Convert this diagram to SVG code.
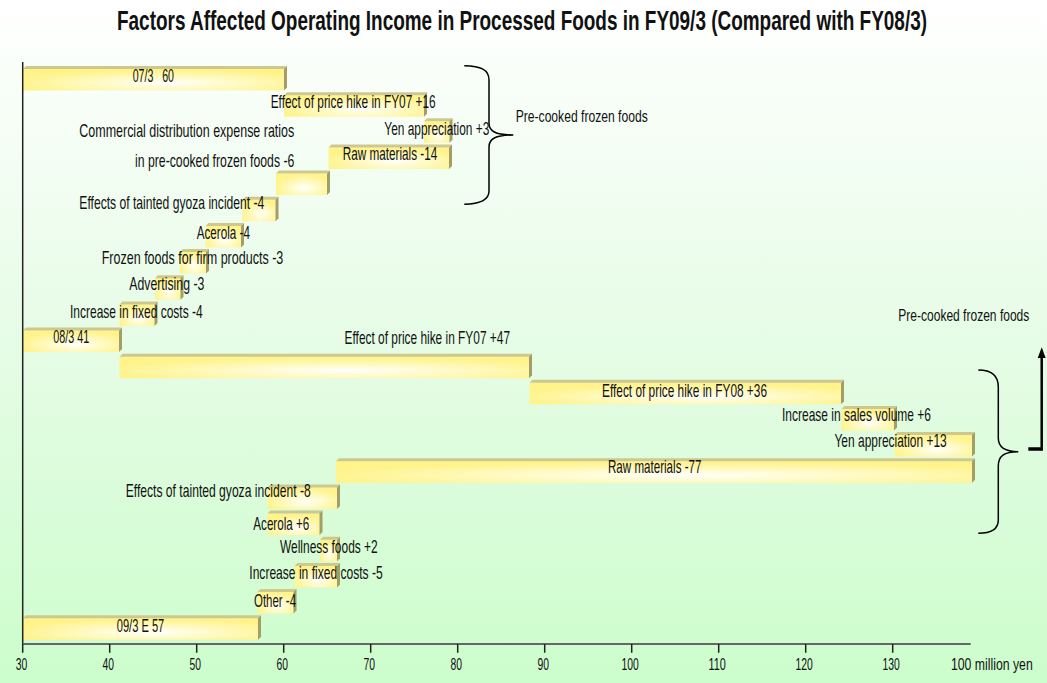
<svg xmlns="http://www.w3.org/2000/svg" width="1047" height="683" viewBox="0 0 1047 683">
<defs>
<linearGradient id="bg" x1="0" y1="0" x2="0" y2="1">
<stop offset="0" stop-color="#ffffff"/>
<stop offset="0.5" stop-color="#e6fce6"/>
<stop offset="1" stop-color="#ccfdcc"/>
</linearGradient>
<radialGradient id="bar" cx="0.55" cy="0.65" r="0.6">
<stop offset="0" stop-color="#ffffff"/>
<stop offset="0.3" stop-color="#fffcd6"/>
<stop offset="1" stop-color="#fff38a"/>
</radialGradient>
<style>
.f{fill:url(#bar)}
.t{fill:#cfc88c}
.s{fill:#a39e66}
.lbl{font-family:"Liberation Sans Narrow","Liberation Sans",Arial,sans-serif;font-size:19px;fill:#111;white-space:pre}
.sm{font-size:17px}
.ax{font-size:16px}
.ttl{font-family:"Liberation Sans Narrow","Liberation Sans",Arial,sans-serif;font-size:27px;font-weight:bold;fill:#111}
.br{fill:none;stroke:#000;stroke-width:1.5}
</style>
</defs>
<rect x="0" y="0" width="1047" height="683" fill="url(#bg)"/>
<text class="ttl" x="522" y="30" text-anchor="middle" textLength="810" lengthAdjust="spacingAndGlyphs">Factors Affected Operating Income in Processed Foods in FY09/3 (Compared with FY08/3)</text>

<g id="n-07-3">
<rect class="f" x="23" y="69" width="261" height="21.5"/>
<polygon class="t" points="23,69 26,66 287,66 284,69"/>
<polygon class="s" points="284,69 287,66 287,87.5 284,90.5"/>
<text class="lbl" x="132.7" y="82" textLength="41.3" lengthAdjust="spacingAndGlyphs">07/3   60</text>
</g>
<g id="n-price-fy07-16">
<rect class="f" x="284" y="95.2" width="140" height="21.5"/>
<polygon class="t" points="284,95.2 287,92.2 427,92.2 424,95.2"/>
<polygon class="s" points="424,95.2 427,92.2 427,113.7 424,116.7"/>
<text class="lbl" x="270.7" y="108" textLength="165" lengthAdjust="spacingAndGlyphs">Effect of price hike in FY07 +16</text>
</g>
<g id="n-yen-3">
<rect class="f" x="424" y="121.3" width="25.5" height="21.5"/>
<polygon class="t" points="424,121.3 427,118.3 452.5,118.3 449.5,121.3"/>
<polygon class="s" points="449.5,121.3 452.5,118.3 452.5,139.8 449.5,142.8"/>
<text class="lbl" x="384.3" y="135" textLength="105" lengthAdjust="spacingAndGlyphs">Yen appreciation +3</text>
</g>
<g id="n-raw-14">
<rect class="f" x="328.5" y="147.5" width="120.5" height="21.5"/>
<polygon class="t" points="328.5,147.5 331.5,144.5 452,144.5 449,147.5"/>
<polygon class="s" points="449,147.5 452,144.5 452,166 449,169"/>
<text class="lbl" x="342.7" y="160" textLength="94.6" lengthAdjust="spacingAndGlyphs">Raw materials -14</text>
</g>
<g id="n-commercial-6">
<rect class="f" x="276" y="173.6" width="51" height="21.5"/>
<polygon class="t" points="276,173.6 279,170.6 330,170.6 327,173.6"/>
<polygon class="s" points="327,173.6 330,170.6 330,192.1 327,195.1"/>
<text class="lbl" x="79.3" y="137.3" textLength="215" lengthAdjust="spacingAndGlyphs">Commercial distribution expense ratios</text>
<text class="lbl" x="135" y="167" textLength="159.3" lengthAdjust="spacingAndGlyphs">in pre-cooked frozen foods -6</text>
</g>
<g id="n-gyoza-4">
<rect class="f" x="242.5" y="199.8" width="33" height="21.5"/>
<polygon class="t" points="242.5,199.8 245.5,196.8 278.5,196.8 275.5,199.8"/>
<polygon class="s" points="275.5,199.8 278.5,196.8 278.5,218.3 275.5,221.3"/>
<text class="lbl" x="79.3" y="209" textLength="185" lengthAdjust="spacingAndGlyphs">Effects of tainted gyoza incident -4</text>
</g>
<g id="n-acerola-4">
<rect class="f" x="205.5" y="225.9" width="35.5" height="21.5"/>
<polygon class="t" points="205.5,225.9 208.5,222.9 244,222.9 241,225.9"/>
<polygon class="s" points="241,225.9 244,222.9 244,244.4 241,247.4"/>
<text class="lbl" x="196.7" y="239.3" textLength="53.3" lengthAdjust="spacingAndGlyphs">Acerola -4</text>
</g>
<g id="n-firm-3">
<rect class="f" x="180" y="252" width="26" height="21.5"/>
<polygon class="t" points="180,252 183,249 209,249 206,252"/>
<polygon class="s" points="206,252 209,249 209,270.5 206,273.5"/>
<text class="lbl" x="101.7" y="264.3" textLength="181.6" lengthAdjust="spacingAndGlyphs">Frozen foods for firm products -3</text>
</g>
<g id="n-advertising-3">
<rect class="f" x="155" y="278.2" width="25.5" height="21.5"/>
<polygon class="t" points="155,278.2 158,275.2 183.5,275.2 180.5,278.2"/>
<polygon class="s" points="180.5,278.2 183.5,275.2 183.5,296.7 180.5,299.7"/>
<text class="lbl" x="129.3" y="290" textLength="75" lengthAdjust="spacingAndGlyphs">Advertising -3</text>
</g>
<g id="n-fixed-4">
<rect class="f" x="119.5" y="304.4" width="35" height="21.5"/>
<polygon class="t" points="119.5,304.4 122.5,301.4 157.5,301.4 154.5,304.4"/>
<polygon class="s" points="154.5,304.4 157.5,301.4 157.5,322.9 154.5,325.9"/>
<text class="lbl" x="70" y="318.3" textLength="132.7" lengthAdjust="spacingAndGlyphs">Increase in fixed costs -4</text>
</g>
<g id="n-08-3">
<rect class="f" x="23" y="330.5" width="96" height="21.5"/>
<polygon class="t" points="23,330.5 26,327.5 122,327.5 119,330.5"/>
<polygon class="s" points="119,330.5 122,327.5 122,349 119,352"/>
<text class="lbl" x="53.3" y="343.3" textLength="36" lengthAdjust="spacingAndGlyphs">08/3 41</text>
</g>
<g id="n-price-fy07-47">
<rect class="f" x="119.5" y="356.7" width="409.5" height="21.5"/>
<polygon class="t" points="119.5,356.7 122.5,353.7 532,353.7 529,356.7"/>
<polygon class="s" points="529,356.7 532,353.7 532,375.2 529,378.2"/>
<text class="lbl" x="344.6" y="344" textLength="165.4" lengthAdjust="spacingAndGlyphs">Effect of price hike in FY07 +47</text>
</g>
<g id="n-price-fy08-36">
<rect class="f" x="529.5" y="382.8" width="311.5" height="21.5"/>
<polygon class="t" points="529.5,382.8 532.5,379.8 844,379.8 841,382.8"/>
<polygon class="s" points="841,382.8 844,379.8 844,401.3 841,404.3"/>
<text class="lbl" x="602" y="397.3" textLength="165" lengthAdjust="spacingAndGlyphs">Effect of price hike in FY08 +36</text>
</g>
<g id="n-sales-6">
<rect class="f" x="841.5" y="409" width="52.5" height="21.5"/>
<polygon class="t" points="841.5,409 844.5,406 897,406 894,409"/>
<polygon class="s" points="894,409 897,406 897,427.5 894,430.5"/>
<text class="lbl" x="782" y="420.7" textLength="149" lengthAdjust="spacingAndGlyphs">Increase in sales volume +6</text>
</g>
<g id="n-yen-13">
<rect class="f" x="894.5" y="435.1" width="77.5" height="21.5"/>
<polygon class="t" points="894.5,435.1 897.5,432.1 975,432.1 972,435.1"/>
<polygon class="s" points="972,435.1 975,432.1 975,453.6 972,456.6"/>
<text class="lbl" x="834.5" y="446.7" textLength="112.2" lengthAdjust="spacingAndGlyphs">Yen appreciation +13</text>
</g>
<g id="n-raw-77">
<rect class="f" x="336" y="461.3" width="636" height="21.5"/>
<polygon class="t" points="336,461.3 339,458.3 975,458.3 972,461.3"/>
<polygon class="s" points="972,461.3 975,458.3 975,479.8 972,482.8"/>
<text class="lbl" x="608" y="473.3" textLength="93.4" lengthAdjust="spacingAndGlyphs">Raw materials -77</text>
</g>
<g id="n-gyoza-8">
<rect class="f" x="267.5" y="487.4" width="69.5" height="21.5"/>
<polygon class="t" points="267.5,487.4 270.5,484.4 340,484.4 337,487.4"/>
<polygon class="s" points="337,487.4 340,484.4 340,505.9 337,508.9"/>
<text class="lbl" x="125.7" y="496.7" textLength="185" lengthAdjust="spacingAndGlyphs">Effects of tainted gyoza incident -8</text>
</g>
<g id="n-acerola-6">
<rect class="f" x="267.5" y="513.6" width="52" height="21.5"/>
<polygon class="t" points="267.5,513.6 270.5,510.6 322.5,510.6 319.5,513.6"/>
<polygon class="s" points="319.5,513.6 322.5,510.6 322.5,532.1 319.5,535.1"/>
<text class="lbl" x="253.3" y="530" textLength="56" lengthAdjust="spacingAndGlyphs">Acerola +6</text>
</g>
<g id="n-wellness-2">
<rect class="f" x="320" y="539.7" width="17" height="21.5"/>
<polygon class="t" points="320,539.7 323,536.7 340,536.7 337,539.7"/>
<polygon class="s" points="337,539.7 340,536.7 340,558.2 337,561.2"/>
<text class="lbl" x="280" y="552.7" textLength="97.7" lengthAdjust="spacingAndGlyphs">Wellness foods +2</text>
</g>
<g id="n-fixed-5">
<rect class="f" x="294.5" y="565.9" width="42.5" height="21.5"/>
<polygon class="t" points="294.5,565.9 297.5,562.9 340,562.9 337,565.9"/>
<polygon class="s" points="337,565.9 340,562.9 340,584.4 337,587.4"/>
<text class="lbl" x="249.3" y="579.3" textLength="133.4" lengthAdjust="spacingAndGlyphs">Increase in fixed costs -5</text>
</g>
<g id="n-other-4">
<rect class="f" x="257.5" y="592" width="36" height="21.5"/>
<polygon class="t" points="257.5,592 260.5,589 296.5,589 293.5,592"/>
<polygon class="s" points="293.5,592 296.5,589 296.5,610.5 293.5,613.5"/>
<text class="lbl" x="254" y="606.7" textLength="42" lengthAdjust="spacingAndGlyphs">Other -4</text>
</g>
<g id="n-09-3">
<rect class="f" x="23" y="618.2" width="235" height="21.5"/>
<polygon class="t" points="23,618.2 26,615.2 261,615.2 258,618.2"/>
<polygon class="s" points="258,618.2 261,615.2 261,636.7 258,639.7"/>
<text class="lbl" x="116.7" y="631.7" textLength="47.6" lengthAdjust="spacingAndGlyphs">09/3 E 57</text>
</g>

<g id="axes" stroke-linecap="butt">
<line x1="22.7" y1="62" x2="22.7" y2="644" stroke="#222" stroke-width="1.5"/>
<line x1="22.7" y1="644" x2="970.7" y2="644" stroke="#666" stroke-width="2"/>
<path d="M22.7,644V652.7M109.7,644V652.7M196.7,644V652.7M283.7,644V652.7M370.7,644V652.7M457.7,644V652.7M544.7,644V652.7M631.7,644V652.7M718.7,644V652.7M805.7,644V652.7M892.7,644V652.7" stroke="#222" stroke-width="1.5"/>
<g class="lbl ax" text-anchor="middle">
<text x="21.5" y="670" textLength="11.5" lengthAdjust="spacingAndGlyphs">30</text>
<text x="108.2" y="670" textLength="11.5" lengthAdjust="spacingAndGlyphs">40</text>
<text x="195.2" y="670" textLength="11.5" lengthAdjust="spacingAndGlyphs">50</text>
<text x="282.2" y="670" textLength="11.5" lengthAdjust="spacingAndGlyphs">60</text>
<text x="369.2" y="670" textLength="11.5" lengthAdjust="spacingAndGlyphs">70</text>
<text x="456.2" y="670" textLength="11.5" lengthAdjust="spacingAndGlyphs">80</text>
<text x="543.2" y="670" textLength="11.5" lengthAdjust="spacingAndGlyphs">90</text>
<text x="630.2" y="670" textLength="17.3" lengthAdjust="spacingAndGlyphs">100</text>
<text x="717.2" y="670" textLength="17.3" lengthAdjust="spacingAndGlyphs">110</text>
<text x="804.2" y="670" textLength="17.3" lengthAdjust="spacingAndGlyphs">120</text>
<text x="891.2" y="670" textLength="17.3" lengthAdjust="spacingAndGlyphs">130</text>
</g>
<text class="lbl ax" x="951" y="670" textLength="81.7" lengthAdjust="spacingAndGlyphs">100 million yen</text>
</g>

<g id="n-precooked-upper">
<text class="lbl sm" x="515.7" y="121.7" textLength="132" lengthAdjust="spacingAndGlyphs">Pre-cooked frozen foods</text>
</g>
<g id="n-precooked-lower">
<text class="lbl sm" x="898.3" y="320.7" textLength="131" lengthAdjust="spacingAndGlyphs">Pre-cooked frozen foods</text>
</g>

<g id="connectors">
<path class="br" d="M464.3,65.7 C481,66 489,70 489,80 L489,123 C489,131 495,135 513.3,135 C495,135 489,139 489,147 L489,191 C489,200 481,204 464.3,204.3"/>
<path class="br" d="M978.3,370 C992,370 998.3,376 998.3,387 L998.3,438 C998.3,447 1004,451.7 1018.3,451.7 C1004,451.7 998.3,456 998.3,466 L998.3,520 C998.3,529 992,533.3 978.3,533.3"/>
<path d="M1028.3,449 L1041.7,449" stroke="#000" stroke-width="3.5" fill="none"/>
<path d="M1041.7,450.7 L1041.7,356" stroke="#000" stroke-width="2.5" fill="none"/>
<polygon points="1041.7,347.3 1045.7,358 1037.7,358" fill="#000"/>
</g>
</svg>
